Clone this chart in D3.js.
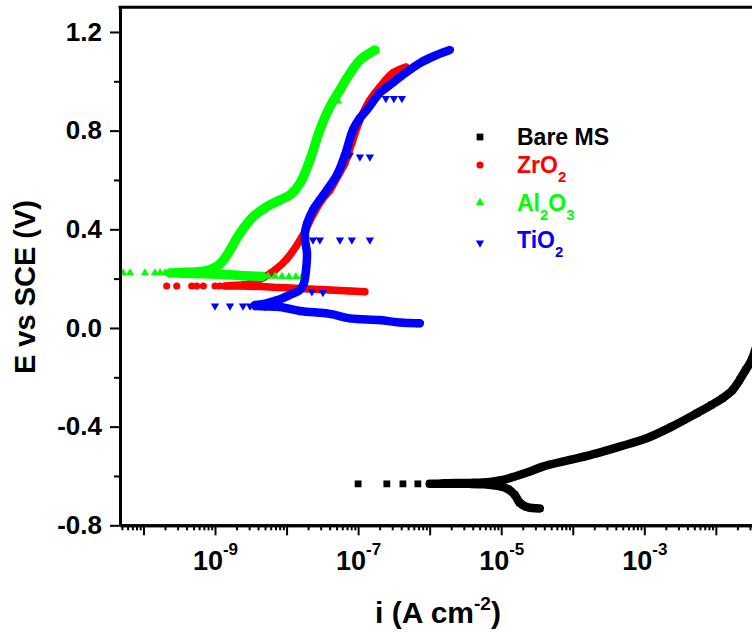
<!DOCTYPE html>
<html>
<head>
<meta charset="utf-8">
<script src="https://cdn.jsdelivr.net/npm/d3@7"></script>
<style>
  body { margin: 0; background: #fff; }
  svg { display: block; font-family: Arial, "Liberation Sans", sans-serif; font-weight: bold; }
</style>
</head>
<body>
<div class="canva"></div>
<script>
// values: [i (A cm-2), E (V vs SCE)]
const seriesNames = ["Bare MS", "ZrO2", "Al2O3", "TiO2"];
const seriesColors = ["#000000", "#ff0000", "#00ff00", "#0000ff"];

// Bare MS
const bareCathodic = [[3.46e-5, -0.732], [2.28e-5, -0.726], [1.82e-5, -0.709], [1.55e-5, -0.677], [1.24e-5, -0.653],
  [8.98e-6, -0.640], [5.90e-6, -0.634], [3.64e-6, -0.632], [2.25e-6, -0.632], [1.39e-6, -0.632], [1.00e-6, -0.632]];
const bareLoose = [[1.00e-7, -0.632], [2.52e-7, -0.632], [4.23e-7, -0.632], [6.84e-7, -0.632]];
const bareAnodic = [[1.39e-6, -0.632], [1.63e-6, -0.630], [3.64e-6, -0.628], [6.93e-6, -0.624], [1.05e-5, -0.616],
  [1.55e-5, -0.602], [2.51e-5, -0.582], [3.81e-5, -0.562], [9.08e-5, -0.535], [2.16e-4, -0.508], [4.53e-4, -0.481],
  [1.08e-3, -0.447], [2.42e-3, -0.400], [5.40e-3, -0.346], [8.73e-3, -0.312], [1.24e-2, -0.285], [1.72e-2, -0.251],
  [2.15e-2, -0.211], [2.61e-2, -0.170], [3.16e-2, -0.130], [4.09e-2, -0.028], [5.28e-2, 0.093]];

// ZrO2
const zrCathodic = [[1.24e-7, 0.147], [7.67e-8, 0.150], [4.04e-8, 0.154], [1.54e-8, 0.160], [8.09e-9, 0.164],
  [4.25e-9, 0.168], [2.23e-9, 0.170], [1.38e-9, 0.170]];
const zrLoose = [[2.11e-10, 0.170], [2.92e-10, 0.170], [4.73e-10, 0.170], [5.55e-10, 0.170], [6.87e-10, 0.170],
  [1.00e-9, 0.170], [1.17e-9, 0.170]];
const zrAnodic = [[1.62e-9, 0.172], [3.08e-9, 0.180], [4.68e-9, 0.203], [6.89e-9, 0.235], [1.01e-8, 0.280],
  [1.64e-8, 0.369], [2.34e-8, 0.458], [3.12e-8, 0.519], [4.04e-8, 0.559], [5.22e-8, 0.616], [6.55e-8, 0.669],
  [8.18e-8, 0.750], [1.06e-7, 0.843], [1.46e-7, 0.924], [2.01e-7, 0.977], [3.06e-7, 1.034], [4.66e-7, 1.058]];

// Al2O3
const alCathodic = [[4.53e-9, 0.209], [2.23e-9, 0.213], [1.38e-9, 0.217], [7.25e-10, 0.220], [3.24e-10, 0.222]];
const alLoose = [[5.19e-11, 0.223], [6.50e-11, 0.223], [1.05e-10, 0.223], [1.45e-10, 0.223], [1.71e-10, 0.223],
  [2.00e-10, 0.223], [5.50e-9, 0.209], [6.89e-9, 0.209], [8.63e-9, 0.208], [1.08e-8, 0.207], [1.35e-8, 0.207],
  [1.64e-8, 0.207], [5.22e-8, 0.920]];
const alAnodic = [[2.35e-10, 0.223], [3.24e-10, 0.225], [5.26e-10, 0.227], [7.25e-10, 0.231], [9.38e-10, 0.242],
  [1.17e-9, 0.259], [1.38e-9, 0.284], [1.62e-9, 0.316], [2.23e-9, 0.384], [3.40e-9, 0.451], [5.32e-9, 0.492],
  [8.09e-9, 0.519], [1.11e-8, 0.539], [1.54e-8, 0.587], [2.12e-8, 0.681], [2.92e-8, 0.803], [4.04e-8, 0.897],
  [5.57e-8, 0.965], [6.98e-8, 1.013], [1.06e-7, 1.086], [1.72e-7, 1.127]];

// TiO2
const tiCathodic = [[7.30e-7, 0.019], [6.62e-7, 0.019], [3.84e-7, 0.022], [2.01e-7, 0.032], [7.67e-8, 0.039],
  [4.04e-8, 0.057], [1.54e-8, 0.069], [8.09e-9, 0.085], [4.99e-9, 0.087], [3.62e-9, 0.089]];
const tiLoose = [[1.00e-9, 0.089], [1.62e-9, 0.089], [2.46e-9, 0.089], [3.08e-9, 0.089],
  [2.44e-7, 0.931], [3.16e-7, 0.931], [4.09e-7, 0.931],
  [7.67e-8, 0.701], [1.06e-7, 0.693], [1.46e-7, 0.693],
  [2.34e-8, 0.357], [2.92e-8, 0.357], [5.57e-8, 0.357], [8.18e-8, 0.357], [1.46e-7, 0.357],
  [2.26e-8, 0.147], [3.22e-8, 0.144]];
const tiAnodic = [[3.62e-9, 0.093], [5.32e-9, 0.101], [8.09e-9, 0.116], [1.11e-8, 0.134], [1.54e-8, 0.154],
  [1.75e-8, 0.182], [1.87e-8, 0.235], [1.93e-8, 0.304], [1.81e-8, 0.357], [1.81e-8, 0.385], [1.93e-8, 0.422],
  [2.34e-8, 0.478], [2.92e-8, 0.519], [3.66e-8, 0.559], [5.06e-8, 0.620], [6.55e-8, 0.701], [8.45e-8, 0.803],
  [1.06e-7, 0.851], [1.33e-7, 0.884], [2.01e-7, 0.953], [2.78e-7, 0.985], [3.84e-7, 1.017], [7.30e-7, 1.074],
  [1.26e-6, 1.107], [1.91e-6, 1.127]];

// axis ticks
const yMajorTicks = [-0.8, -0.4, 0.0, 0.4, 0.8, 1.2];
const yMinorTicks = [-0.6, -0.2, 0.2, 0.6, 1.0];
const xLabelExponents = [-9, -7, -5, -3];

// legend labels, pieces flagged 1 are subscripts
const legendLabels = [
  [["Bare MS", 0]],
  [["ZrO", 0], ["2", 1]],
  [["Al", 0], ["2", 1], ["O", 0], ["3", 1]],
  [["TiO", 0], ["2", 1]]
];

const width = 752, height = 632;
const plot = {left: 120, right: 800, top: 7.3, bottom: 525.3};

const svg = d3.select(".canva").append("svg")
  .attr("width", width)
  .attr("height", height);

const x = d3.scaleLog().domain([4.7e-11, 0.15]).range([plot.left, plot.right]);
const y = d3.scaleLinear().domain([-0.8, 1.3]).range([plot.bottom, plot.top]);

svg.append("clipPath").attr("id", "plotClip")
  .append("rect")
  .attr("x", plot.left).attr("y", plot.top)
  .attr("width", plot.right - plot.left).attr("height", plot.bottom - plot.top);

//series built from the arrays above
const symbols = [d3.symbolSquare, d3.symbolCircle, d3.symbolTriangle, d3.symbolTriangle];
const symbolSizes = [46, 40, 30, 30];
const symbolRotate = [0, 0, 0, 180];
const bandWidths = [8.5, 7.5, 9.5, 8.5];

const series = [
  {branches: [bareCathodic, bareAnodic], loose: bareLoose},
  {branches: [zrCathodic, zrAnodic], loose: zrLoose},
  {branches: [alCathodic, alAnodic], loose: alLoose},
  {branches: [tiCathodic, tiAnodic], loose: tiLoose}
];

const line = d3.line()
  .x(d => x(d[0]))
  .y(d => y(d[1]))
  .curve(d3.curveCatmullRom.alpha(0.5));

const dataLayer = svg.append("g").attr("clip-path", "url(#plotClip)");

series.forEach((s, k) => {
  const g = dataLayer.append("g");
  s.branches.forEach(b => {
    g.append("path")
      .attr("d", line(b))
      .attr("fill", "none")
      .attr("stroke", seriesColors[k])
      .attr("stroke-width", bandWidths[k])
      .attr("stroke-linecap", "round")
      .attr("stroke-linejoin", "round");
  });
  const pts = s.branches.flat().concat(s.loose);
  g.selectAll("path.pt")
    .data(pts)
    .enter()
    .append("path")
    .attr("class", "pt")
    .attr("d", d3.symbol().type(symbols[k]).size(symbolSizes[k]))
    .attr("transform", d => `translate(${x(d[0])},${y(d[1])}) rotate(${symbolRotate[k]})`)
    .attr("fill", seriesColors[k]);
});

// axes
const minorX = [];
for (let e = -11; e <= -1; e++) {
  for (let m = 2; m <= 9; m++) {
    const v = m * Math.pow(10, e);
    if (v >= x.domain()[0] && v <= x.domain()[1]) minorX.push(v);
  }
}
const majorX = d3.range(-10, 0).map(e => Math.pow(10, e));

const xMinorAxis = svg.append("g")
  .attr("transform", `translate(0,${plot.bottom})`)
  .call(d3.axisBottom(x).tickValues(minorX).tickSize(5).tickSizeOuter(0).tickFormat(""));

const xAxis = svg.append("g")
  .attr("transform", `translate(0,${plot.bottom})`)
  .call(d3.axisBottom(x).tickValues(majorX).tickSize(10).tickSizeOuter(0).tickFormat(""));

xAxis.selectAll(".tick").each(function(d) {
  const ex = Math.round(Math.log10(d));
  if (!xLabelExponents.includes(ex)) return;
  const t = d3.select(this).select("text")
    .attr("y", 45).attr("dy", null)
    .attr("fill", "#000")
    .style("font-size", "27px")
    .attr("text-anchor", "middle");
  t.append("tspan").text("10");
  t.append("tspan").attr("dy", -15).style("font-size", "17px").text(ex);
});

const yMinorAxis = svg.append("g")
  .attr("transform", `translate(${plot.left},0)`)
  .call(d3.axisLeft(y).tickValues(yMinorTicks).tickSize(6).tickSizeOuter(0).tickFormat(""));

const yAxis = svg.append("g")
  .attr("transform", `translate(${plot.left},0)`)
  .call(d3.axisLeft(y).tickValues(yMajorTicks).tickSize(10).tickPadding(8).tickSizeOuter(0)
    .tickFormat(d => d.toFixed(1)));

yAxis.selectAll("text")
  .attr("fill", "#000")
  .style("font-size", "26px");

[xMinorAxis, xAxis, yMinorAxis, yAxis].forEach(a => {
  a.select(".domain").attr("stroke", "#000").attr("stroke-width", 3);
  a.selectAll(".tick line").attr("stroke", "#000").attr("stroke-width", 2);
});

// top frame line
svg.append("line")
  .attr("x1", plot.left - 1.5).attr("x2", plot.right)
  .attr("y1", plot.top).attr("y2", plot.top)
  .attr("stroke", "#000").attr("stroke-width", 3);

// axis titles
const xTitle = svg.append("text")
  .attr("x", 438).attr("y", 623)
  .attr("text-anchor", "middle")
  .style("font-size", "30px");
xTitle.append("tspan").text("i (A cm");
xTitle.append("tspan").attr("dy", -13).style("font-size", "19px").text("-2");
xTitle.append("tspan").attr("dy", 13).text(")");

svg.append("text")
  .attr("transform", "translate(35,287) rotate(-90)")
  .attr("text-anchor", "middle")
  .style("font-size", "29px")
  .text("E vs SCE (V)");

// legend
const legend = svg.append("g");
let baseY = 145;
legendLabels.forEach((parts, k) => {
  legend.append("path")
    .attr("d", d3.symbol().type(symbols[k]).size(symbolSizes[k]))
    .attr("transform", `translate(480,${baseY - 8 + (symbolRotate[k] ? 3 : 0)}) rotate(${symbolRotate[k]})`)
    .attr("fill", seriesColors[k]);
  const t = legend.append("text")
    .attr("x", 517).attr("y", baseY)
    .attr("fill", seriesColors[k])
    .style("font-size", "23px");
  let shifted = false;
  parts.forEach(p => {
    const ts = t.append("tspan").text(p[0]);
    if (p[1] && !shifted) { ts.attr("dy", 9).style("font-size", "15px"); shifted = true; }
    else if (!p[1] && shifted) { ts.attr("dy", -9); shifted = false; }
    else if (p[1]) ts.style("font-size", "15px");
  });
  const hasSub = parts.some(p => p[1]);
  baseY += hasSub ? 37.5 : 28;
});
</script>
</body>
</html>
